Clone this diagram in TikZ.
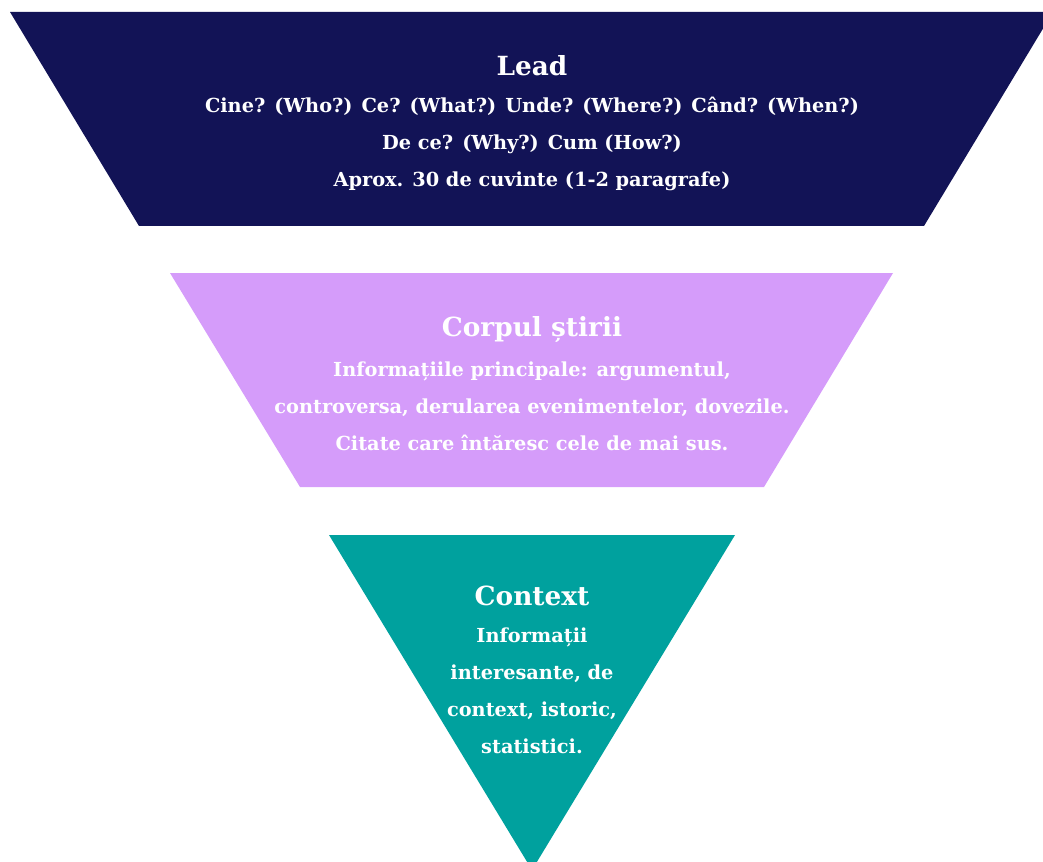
\documentclass[tikz,border=0pt]{standalone}
\usepackage{fontspec}
\setmainfont{DejaVu Serif}
\definecolor{lead}{RGB}{18,19,86}
\definecolor{corp}{RGB}{213,156,250}
\definecolor{ctx}{RGB}{0,161,158}

\begin{document}
\begin{tikzpicture}[x=0.02cm,y=-0.02cm,
    titel/.style={text=white,font=\bfseries\fontsize{15}{18}\selectfont},
    zeile/.style={text=white,align=center,font=\bfseries\fontsize{11}{21}\selectfont}]
        \useasboundingbox (0,0) rectangle (1043,861);
        \clip (0,0) rectangle (1043,861);
        % the three layers
        \fill[lead] (10,12) -- (1053,12) -- (924,226) -- (139,226) -- cycle;
        \fill[corp] (170,273) -- (893,273) -- (764,487) -- (300,487) -- cycle;
        \fill[ctx] (329,535) -- (735,535) -- (532,870) -- cycle;
        % texts
        \node[titel] (L) at (532,66) {Lead};
        \node[zeile] (L1) at (532,144) {Cine? (Who?) Ce? (What?) Unde? (Where?) Când? (When?)\\De ce? (Why?) Cum (How?)\\Aprox. 30 de cuvinte (1-2 paragrafe)};
        \node[titel] (C) at (532,330) {Corpul știrii};
        \node[zeile] (C1) at (532,406) {Informațiile principale: argumentul,\\controversa, derularea evenimentelor, dovezile.\\Citate care întăresc cele de mai sus.};
        \node[titel] (K) at (532,596) {Context};
        \node[zeile] (K1) at (532,691) {Informații\\interesante, de\\context, istoric,\\statistici.};
\end{tikzpicture}
\end{document}
